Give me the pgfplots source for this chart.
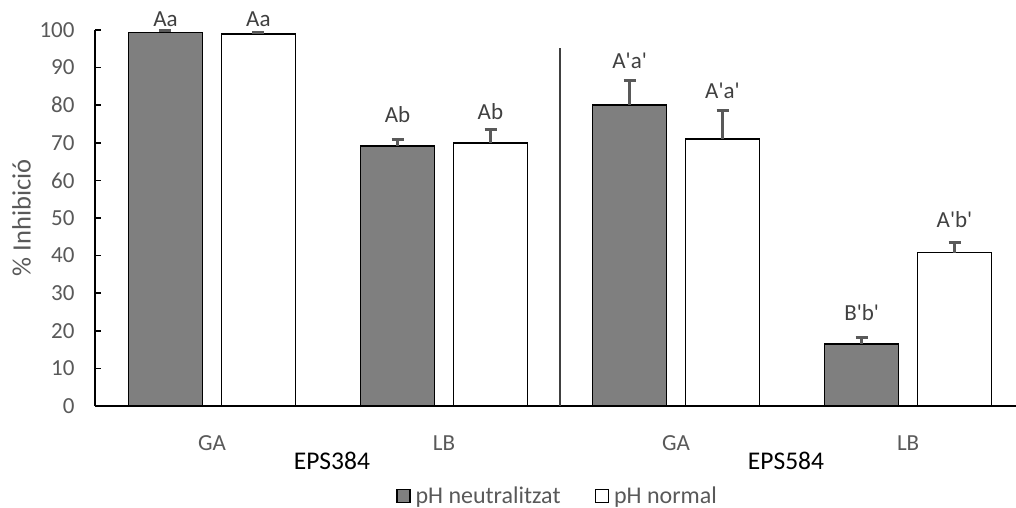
\documentclass[border=0pt]{standalone}
\usepackage{fontspec}
\setmainfont{Carlito}
\usepackage{pgfplots}
\pgfplotsset{compat=1.18}
\definecolor{txtgray}{HTML}{595959}
\definecolor{lblgray}{HTML}{404040}
\definecolor{bargray}{HTML}{7F7F7F}
\definecolor{errgray}{HTML}{595959}
\newcommand{\q}{\textquotesingle}
\tikzset{lbl/.style={font=\fontsize{23bp}{27bp}\selectfont, text=lblgray, anchor=center}}
\begin{document}
\begin{tikzpicture}
\begin{axis}[
  at={(95bp,102bp)}, anchor=south west,
  scale only axis, width=921bp, height=376bp,
  xmin=-0.504, xmax=3.465, ymin=0, ymax=100,
  clip=false,
  axis lines*=left,
  axis line style={black, line width=2bp},
  ytick={0,10,...,100},
  tick align=inside,
  major tick length=6bp,
  ytick style={black, line width=1.5bp},
  xtick={0,1,2,3}, xticklabels={GA,LB,GA,LB},
  xtick style={draw=none},
  /pgf/number format/assume math mode=true,
  tick label style={font=\fontsize{23bp}{27bp}\selectfont, text=txtgray},
  yticklabel style={xshift=-17bp},
  xticklabel style={yshift=-20bp},
  ybar=19bp, bar width=74bp,
  legend columns=2,
  legend style={at={(0.5016,-0.239)}, anchor=center, draw=none, fill=none, inner sep=0pt,
    nodes={inner sep=1bp},
    font=\fontsize{24bp}{28bp}\selectfont, text=txtgray,
    /tikz/every odd column/.append style={column sep=4bp},
    /tikz/every even column/.append style={column sep=33bp}},
  legend cell align=left,
]
\addplot[fill=bargray, draw=black, line width=1.5bp,
  legend image code/.code={\draw[fill=bargray, draw=black, line width=1.5bp] (0bp,-6.5bp) rectangle (13bp,6.5bp);},
  error bars/.cd, y dir=plus, y explicit,
  error bar style={line width=3bp, errgray},
  error mark options={errgray, line width=3bp, mark size=6bp, rotate=90}]
  coordinates {(0,99.4) +- (0,0.4) (1,69.1) +- (0,1.8) (2,80.0) +- (0,6.7) (3,16.5) +- (0,1.8)};
\addlegendentry{pH neutralitzat}
\addplot[fill=white, draw=black, line width=1.5bp,
  legend image code/.code={\draw[fill=white, draw=black, line width=1.5bp] (0bp,-6.5bp) rectangle (13bp,6.5bp);},
  error bars/.cd, y dir=plus, y explicit,
  error bar style={line width=3bp, errgray},
  error mark options={errgray, line width=3bp, mark size=6bp, rotate=90}]
  coordinates {(0,98.9) +- (0,0.5) (1,69.9) +- (0,3.7) (2,71.0) +- (0,7.5) (3,40.8) +- (0,2.6)};
\addlegendentry{pH normal}
\draw[black!75, line width=1.3bp] (axis cs:1.5,0) -- (axis cs:1.5,95.2);
\node[lbl] at (axis cs:-0.2,102.9) {Aa};
\node[lbl] at (axis cs:0.2,102.8) {Aa};
\node[lbl] at (axis cs:0.8,77.4) {Ab};
\node[lbl] at (axis cs:1.2,78.2) {Ab};
\node[lbl] at (axis cs:1.8,91.8) {A\q a\q};
\node[lbl] at (axis cs:2.2,83.8) {A\q a\q};
\node[lbl] at (axis cs:2.8,24.9) {B\q b\q};
\node[lbl] at (axis cs:3.2,49.5) {A\q b\q};
\node[font=\fontsize{25.5bp}{30bp}\selectfont, text=black, anchor=center] at (axis cs:0.517,0) [yshift=-55bp] {EPS384};
\node[font=\fontsize{25.5bp}{30bp}\selectfont, text=black, anchor=center] at (axis cs:2.474,0) [yshift=-55bp] {EPS584};
\node[rotate=90, font=\fontsize{26.5bp}{31bp}\selectfont, text=txtgray, anchor=center] at (rel axis cs:-0.0798,0.5) {\% Inhibició};
\end{axis}
\pgfresetboundingbox
\useasboundingbox (0,0) rectangle (1016bp,508bp);
\end{tikzpicture}
\end{document}
